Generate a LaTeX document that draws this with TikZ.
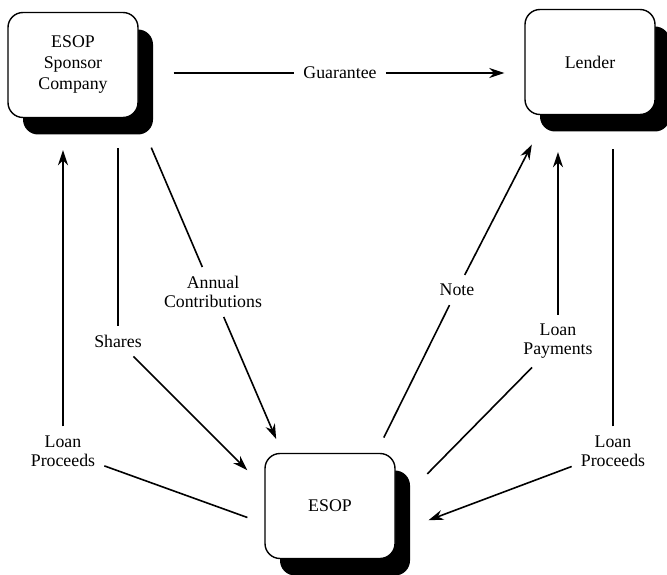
\documentclass[tikz,border=0pt]{standalone}
\usepackage{fontspec}
\setmainfont{Liberation Serif}
\usetikzlibrary{arrows.meta,shadows}

\tikzset{
  entity/.style={draw, line width=1.4pt, rounded corners=15pt, fill=white,
    minimum width=130pt, minimum height=105pt, align=center,
    font=\fontsize{17.8pt}{21pt}\selectfont,
    drop shadow={shadow xshift=15pt, shadow yshift=-17pt, fill=black, opacity=1}},
  flowlabel/.style={align=center, inner sep=9pt, font=\fontsize{17.8pt}{19pt}\selectfont},
  flow/.style={line width=1.6pt},
  flowarrow/.style={flow, -{Stealth[length=15pt,width=10pt]}}
}

\begin{document}
\begin{tikzpicture}[x=1pt,y=-1pt]
\useasboundingbox (0,0) rectangle (667,575);

\node[entity] (sponsor) at (73,65) {ESOP\\Sponsor\\Company};
\node[entity] (lender) at (590,62) {Lender};
\node[entity] (esop) at (330,506) {ESOP};

\node[flowlabel] (guar) at (340,73) {Guarantee};
\node[flowlabel] (proceedsl) at (63,451) {Loan\\Proceeds};
\node[flowlabel] (shares) at (118,341) {Shares};
\node[flowlabel] (contrib) at (213,292) {Annual\\Contributions};
\node[flowlabel] (note) at (457,290) {Note};
\node[flowlabel] (payments) at (558,341) {Loan\\Payments};
\node[flowlabel] (proceedsr) at (613,451) {Loan\\Proceeds};

\draw[flow, shorten <=35pt] (guar -| sponsor.east) -- (guar);
\draw[flowarrow, shorten >=20pt] (guar) -- (guar -| lender.west);

\draw[flow, shorten >=18pt] (proceedsl) -- (esop.195);
\draw[flowarrow, shorten >=32pt] (proceedsl) -- (proceedsl |- sponsor.south);

\draw[flow, shorten >=30pt] (shares) -- (shares |- sponsor.south);
\draw[flowarrow, shorten >=24pt] (shares) -- (esop.164);

\draw[flow, shorten >=32pt] (contrib) -- (sponsor.south east);
\draw[flowarrow, shorten >=15pt] (contrib) -- (esop.132);

\draw[flow, shorten >=17pt] (note) -- (esop.49);
\draw[flowarrow, shorten >=33pt] (note) -- (lender.231);

\draw[flow, shorten >=45pt] (payments) -- (esop.east);
\draw[flowarrow, shorten >=37pt] (payments) -- (payments |- lender.south);

\draw[flow, shorten >=34pt] (proceedsr) -- (proceedsr |- lender.south);
\draw[flowarrow, shorten >=35pt] (proceedsr) -- (esop.-22);

\end{tikzpicture}
\end{document}
